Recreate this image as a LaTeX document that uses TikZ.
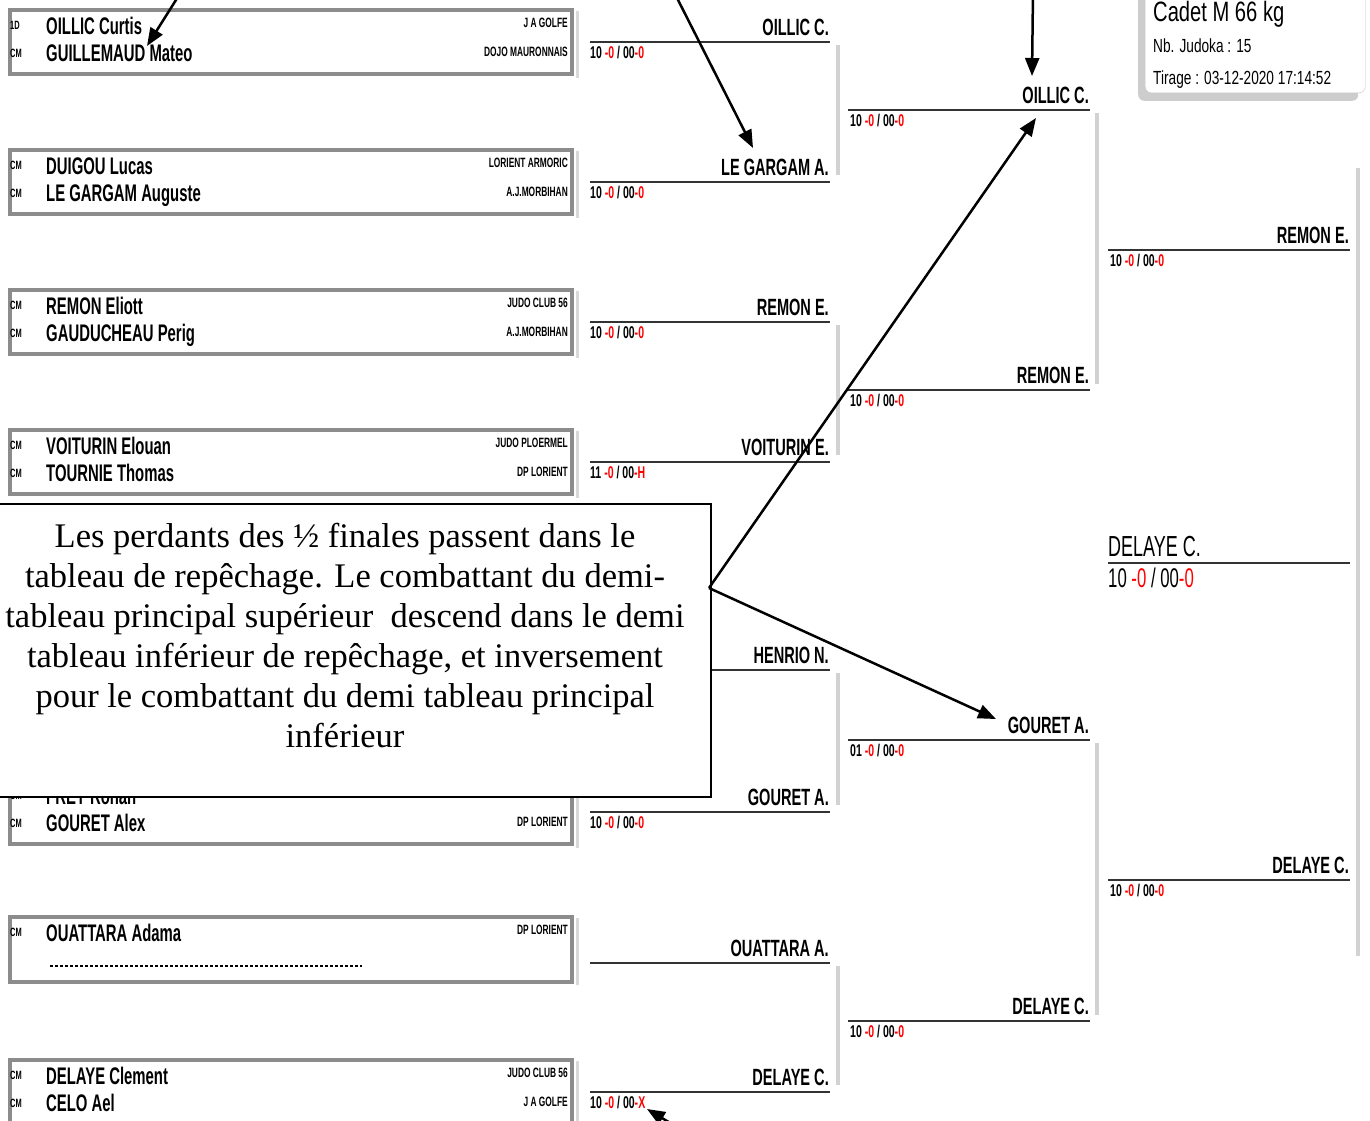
\documentclass[tikz,border=0pt]{standalone}
\usepackage{fontspec}
\setmainfont{Liberation Serif}
\newfontfamily\narrowfont[FakeStretch=0.62]{Liberation Sans}
\newfontfamily\infofont[FakeStretch=0.72]{Liberation Sans}
\usetikzlibrary{arrows.meta,shadows}

\newcommand{\fsz}[1]{\fontsize{#1}{#1}\selectfont}
\newcommand{\scoreline}[4]{#1 \textcolor{red}{-#2} / #3\textcolor{red}{-#4}}

\tikzset{
  boxline/.style={draw=gray!90, line width=3.5pt, inner sep=0pt},
  boxshade/.style={draw=gray!30, line width=3pt},
  tagtxt/.style={anchor=base west, inner sep=0pt, font=\narrowfont\bfseries\fsz{12}},
  nametxt/.style={anchor=base west, inner sep=0pt, font=\narrowfont\bfseries\fsz{24}},
  clubtxt/.style={anchor=base east, inner sep=0pt, font=\narrowfont\bfseries\fsz{13.5}},
  winline/.style={draw=black!80, line width=2.5pt},
  winner/.style={anchor=base east, inner sep=0pt, font=\narrowfont\bfseries\fsz{23.5}},
  score/.style={anchor=base west, inner sep=0pt, font=\narrowfont\bfseries\fsz{17}},
  link/.style={draw=gray!35, line width=4pt},
  pointer/.style={draw=black, line width=2.5pt, -{Triangle[length=18pt,width=14pt]}},
}

\begin{document}
\begin{tikzpicture}[x=1pt, y=-1pt]
    \useasboundingbox (0,0) rectangle (1370,1120);
    \clip (0,0) rectangle (1370,1120);
    \fill[white] (0,0) rectangle (1370,1120);

    % competitor boxes
    \foreach \top/\n/\ta/\na/\ca/\tb/\nb/\cb in {
        8/b1/1D/OILLIC Curtis/J A GOLFE/CM/GUILLEMAUD Mateo/DOJO MAURONNAIS,
        148/b2/CM/DUIGOU Lucas/LORIENT ARMORIC/CM/LE GARGAM Auguste/A.J.MORBIHAN,
        288/b3/CM/REMON Eliott/JUDO CLUB 56/CM/GAUDUCHEAU Perig/A.J.MORBIHAN,
        428/b4/CM/VOITURIN Elouan/JUDO PLOERMEL/CM/TOURNIE Thomas/DP LORIENT,
        778/b6/CM/FREY Ronan//CM/GOURET Alex/DP LORIENT,
        1058/b8/CM/DELAYE Clement/JUDO CLUB 56/CM/CELO Ael/J A GOLFE}{
        \draw[boxshade] (577,\top+3) -- (577,\top+70);
        \node[boxline, minimum width=562, minimum height=64, anchor=north west] (\n) at (8,\top) {};
        \node[tagtxt] (\n-ta) at (10,\top+21) {\ta};
        \node[nametxt] (\n-na) at (46,\top+26) {\na};
        \node[clubtxt] (\n-ca) at (568,\top+19) {\ca};
        \node[tagtxt] (\n-tb) at (10,\top+49) {\tb};
        \node[nametxt] (\n-nb) at (46,\top+53) {\nb};
        \node[clubtxt] (\n-cb) at (568,\top+48) {\cb};
    }
    \draw[boxshade] (577,918) -- (577,985);
    \node[boxline, minimum width=562, minimum height=65, anchor=north west] (b7) at (8,915) {};
    \node[tagtxt] (b7-ta) at (10,936) {CM};
    \node[nametxt] (b7-na) at (46,941) {OUATTARA Adama};
    \node[clubtxt] (b7-ca) at (568,934) {DP LORIENT};
    \draw[densely dashed, line width=1.2pt] (50,966) -- (362,966);

    % first round
    \foreach \y/\n/\w/\sc in {
        42/r1a/OILLIC C./{\scoreline{10}{0}{00}{0}},
        182/r1b/LE GARGAM A./{\scoreline{10}{0}{00}{0}},
        322/r1c/REMON E./{\scoreline{10}{0}{00}{0}},
        462/r1d/VOITURIN E./{\scoreline{11}{0}{00}{H}},
        670/r1e/HENRIO N./{},
        812/r1f/GOURET A./{\scoreline{10}{0}{00}{0}},
        963/r1g/OUATTARA A./{},
        1092/r1h/DELAYE C./{\scoreline{10}{0}{00}{X}}}{
        \draw[winline] (590,\y) -- (830,\y);
        \node[winner] (\n) at (829,\y-7) {\w};
        \node[score] (\n-s) at (590,\y+16) {\sc};
    }
    \foreach \ya/\yb in {42/182, 322/462, 670/812, 963/1092}
        \draw[link] (838,\ya+3) -- (838,\yb-7);

    % second round
    \foreach \y/\n/\w/\sc in {
        110/r2a/OILLIC C./{\scoreline{10}{0}{00}{0}},
        390/r2b/REMON E./{\scoreline{10}{0}{00}{0}},
        740/r2c/GOURET A./{\scoreline{01}{0}{00}{0}},
        1021/r2d/DELAYE C./{\scoreline{10}{0}{00}{0}}}{
        \draw[winline] (848,\y) -- (1090,\y);
        \node[winner] (\n) at (1089,\y-7) {\w};
        \node[score] (\n-s) at (850,\y+16) {\sc};
    }
    \foreach \ya/\yb in {110/390, 740/1021}
        \draw[link] (1097,\ya+3) -- (1097,\yb-6);

    % semi finals and final
    \foreach \y/\n/\w in {250/r3a/REMON E., 880/r3b/DELAYE C.}{
        \draw[winline] (1108,\y) -- (1350,\y);
        \node[winner] (\n) at (1349,\y-7) {\w};
        \node[score] (\n-s) at (1110,\y+16) {\scoreline{10}{0}{00}{0}};
    }
    \draw[link] (1358,168) -- (1358,956);
    \draw[winline] (1108,563) -- (1350,563);
    \node[anchor=base west, inner sep=0pt, font=\narrowfont\fsz{29}] (champ) at (1108,556) {DELAYE C.};
    \node[anchor=base west, inner sep=0pt, font=\narrowfont\fsz{27}] (champ-s) at (1108,587) {\scoreline{10}{0}{00}{0}};

    % category card
    \node[draw=gray!45, fill=white, rounded corners=6pt, minimum width=220, minimum height=125,
          anchor=south west, drop shadow={shadow xshift=-7pt, shadow yshift=-8pt, fill=gray!55, opacity=0.7}] (card) at (1145,93) {};
    \node[anchor=base west, inner sep=0pt, font=\infofont\fsz{28}] (cat) at (1153,21) {Cadet M 66 kg};
    \node[anchor=base west, inner sep=0pt, font=\infofont\fsz{19}] (nb) at (1153,52) {Nb. Judoka : 15};
    \node[anchor=base west, inner sep=0pt, font=\infofont\fsz{19}] (tir) at (1153,84) {Tirage : 03-12-2020 17:14:52};

    % note
    \node[draw, line width=2pt, fill=white, minimum width=714, minimum height=293, inner sep=0pt,
          anchor=north west] (callout) at (-4,503) {};
    \node[align=center, inner sep=0pt, font=\fontsize{34.5}{40}\selectfont] (note) at (345,636)
        {Les perdants des ½ finales passent dans le\\
         tableau de repêchage. Le combattant du demi-\\
         tableau principal supérieur \ descend dans le demi\\
         tableau inférieur de repêchage, et inversement\\
         pour le combattant du demi tableau principal\\
         inférieur};

    % arrows
    \coordinate (from1) at (181,-8);
    \coordinate (to1) at (147,46);
    \coordinate (from2) at (674,-8);
    \coordinate (to2) at (753,148);
    \coordinate (from3) at (1033,-8);
    \coordinate (to3) at (1032,76);
    \coordinate (fromnote) at (709,588);
    \coordinate (to4) at (1036,118);
    \coordinate (to5) at (996,719);
    \coordinate (from6) at (702,1142);
    \coordinate (to6) at (647,1109);
    \draw[pointer] (from1) -- (to1);
    \draw[pointer] (from2) -- (to2);
    \draw[pointer] (from3) -- (to3);
    \draw[pointer] (fromnote) -- (to4);
    \draw[pointer] (fromnote) -- (to5);
    \draw[pointer] (from6) -- (to6);
\end{tikzpicture}
\end{document}
